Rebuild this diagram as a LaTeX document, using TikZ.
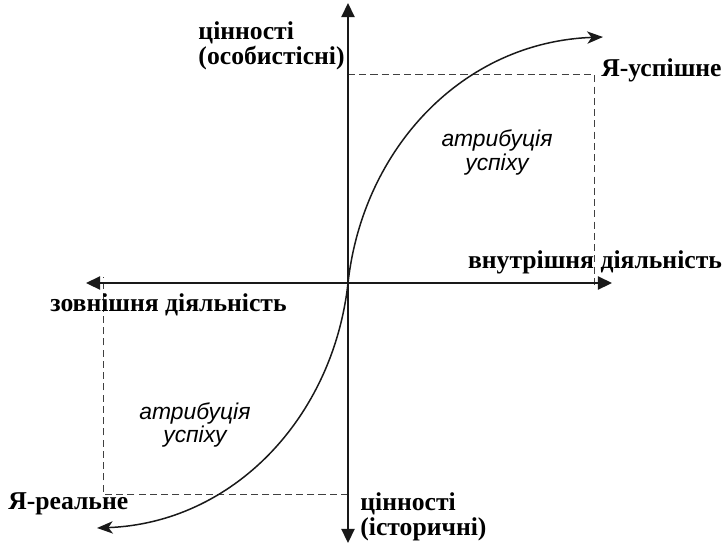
\documentclass[tikz,border=0pt]{standalone}
\usepackage{fontspec}
\setmainfont{Liberation Serif}
\newfontfamily\attrfont{Liberation Sans}
\usetikzlibrary{arrows.meta, positioning}

\begin{document}
\begin{tikzpicture}[
    axis/.style  = {line width=0.9pt, black!90,
                    {Triangle[length=8pt, width=7.5pt]}-{Triangle[length=8pt, width=7.5pt]}},
    path/.style  = {line width=0.85pt, black!90,
                    {Stealth[length=9pt, width=7pt, inset=2.5pt]}-{Stealth[length=9pt, width=7pt, inset=2.5pt]}},
    guide/.style = {line width=0.55pt, black!75, dash pattern=on 4pt off 2.4pt},
    lbl/.style   = {font=\bfseries\fontsize{14.6}{14.4}\selectfont, inner sep=0pt, align=left},
    attr/.style  = {font=\attrfont\itshape\fontsize{13}{13.6}\selectfont, inner sep=0pt, align=center},
]
\useasboundingbox (-6.96,-5.24) rectangle (7.60,5.66);

%% ---- Axis end points ----
\coordinate (O)     at (0, 0);
\coordinate (vtop)  at (0, 5.60);
\coordinate (vbot)  at (0, -5.20);
\coordinate (hleft) at (-5.24, 0);
\coordinate (hright) at (5.28, 0);

%% ---- Dashed frames ----
\coordinate (upL) at (0, 4.18);
\coordinate (upR) at (4.92, 4.18);
\coordinate (upB) at (4.92, -0.12);
\coordinate (loR) at (0, -4.22);
\coordinate (loL) at (-4.90, -4.22);
\coordinate (loT) at (-4.90, 0.12);
\draw[guide] (upL) -- (upR) -- (upB);
\draw[guide] (loR) -- (loL) -- (loT);

%% ---- Axes ----
\draw[axis] (vbot) -- (vtop);
\draw[axis] (hleft) -- (hright);

%% ---- Curve from real to successful self ----
\coordinate (real) at (-5.02, -4.90);
\coordinate (succ) at (5.10, 4.92);
\draw[path] (real) .. controls (-2.3,-4.80) and (-0.3,-2.7) .. (O)
               .. controls (0.3,2.7) and (2.3,4.82) .. (succ);

%% ---- Labels ----
\node[lbl, anchor=east] (pers) at (-0.06, 4.74)
    {цінності\\(особистісні)};
\node[lbl, anchor=west] (hist) at (0.24, -4.68)
    {цінності\\(історичні)};
\node[lbl, anchor=west] (ysucc) at (5.06, 4.26) {Я-успішне};
\node[lbl, anchor=west] (yreal) at (-6.80, -4.42) {Я-реальне};
\node[lbl] (inner) at (4.94, 0.42) {внутрішня діяльність};
\node[lbl] (outer) at (-3.59, -0.44) {зовнішня діяльність};

%% ---- Attribution ----
\node[attr] (attrup) at (2.98, 2.61) {атрибуція\\успіху};
\node[attr] (attrlo) at (-3.06, -2.84) {атрибуція\\успіху};

\end{tikzpicture}
\end{document}
